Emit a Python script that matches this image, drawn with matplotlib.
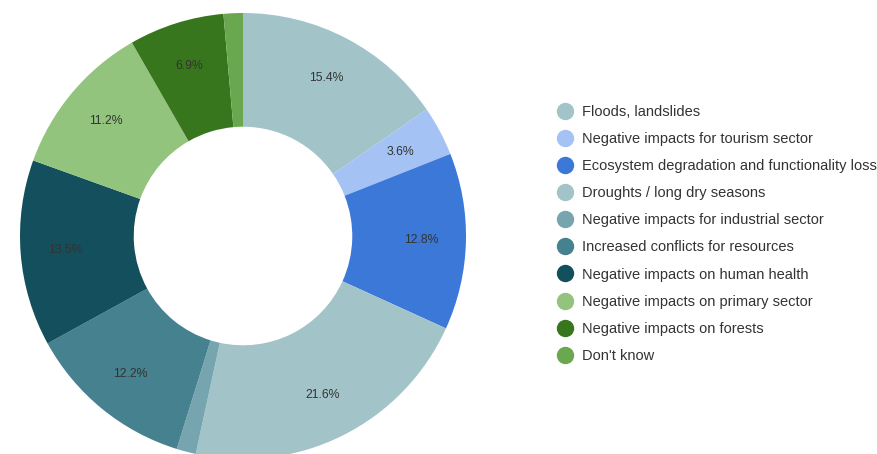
import matplotlib.pyplot as plt
from matplotlib.lines import Line2D

plt.rcParams['font.family'] = ['Liberation Sans', 'DejaVu Sans']

labels = [
    "Floods, landslides",
    "Negative impacts for tourism sector",
    "Ecosystem degradation and functionality loss",
    "Droughts / long dry seasons",
    "Negative impacts for industrial sector",
    "Increased conflicts for resources",
    "Negative impacts on human health",
    "Negative impacts on primary sector",
    "Negative impacts on forests",
    "Don't know",
]
shares = [15.4, 3.6, 12.8, 21.6, 1.4, 12.2, 13.5, 11.2, 6.9, 1.4]
colors = ["#a2c4c9", "#a4c2f4", "#3c78d8", "#a2c4c9", "#76a5af",
          "#45818e", "#134f5c", "#93c47d", "#38761d", "#6aa84f"]

W, H = 878, 454
fig = plt.figure(figsize=(W / 100, H / 100), dpi=100)

# donut centred at (243, 236) px with outer radius 223 px
cx, cy, r = 243, 236, 223
ax = fig.add_axes([(cx - r) / W, (H - cy - r) / H, 2 * r / W, 2 * r / H])

def fmt(p):
    return f"{p:.1f}%" if p >= 3 else ""

wedges, texts, autotexts = ax.pie(
    shares, colors=colors, startangle=90, counterclock=False,
    radius=1.0, autopct=fmt, pctdistance=0.8,
    wedgeprops=dict(width=0.51, linewidth=0),
    textprops=dict(fontsize=8.8, color="#333333"),
)
ax.set_xlim(-1, 1)
ax.set_ylim(-1, 1)
ax.set_aspect("equal")
ax.axis("off")

handles = [Line2D([], [], marker="o", linestyle="", markersize=11.5,
                  markerfacecolor=c, markeredgecolor=c) for c in colors]
fig.legend(handles, labels, loc="upper left",
           bbox_to_anchor=(549 / W, 1 - 97.5 / H), frameon=False,
           fontsize=10.5, labelcolor="#333333", handletextpad=0.55,
           labelspacing=0.90, handlelength=1.2, borderpad=0)

fig.savefig("out.png", dpi=100)
